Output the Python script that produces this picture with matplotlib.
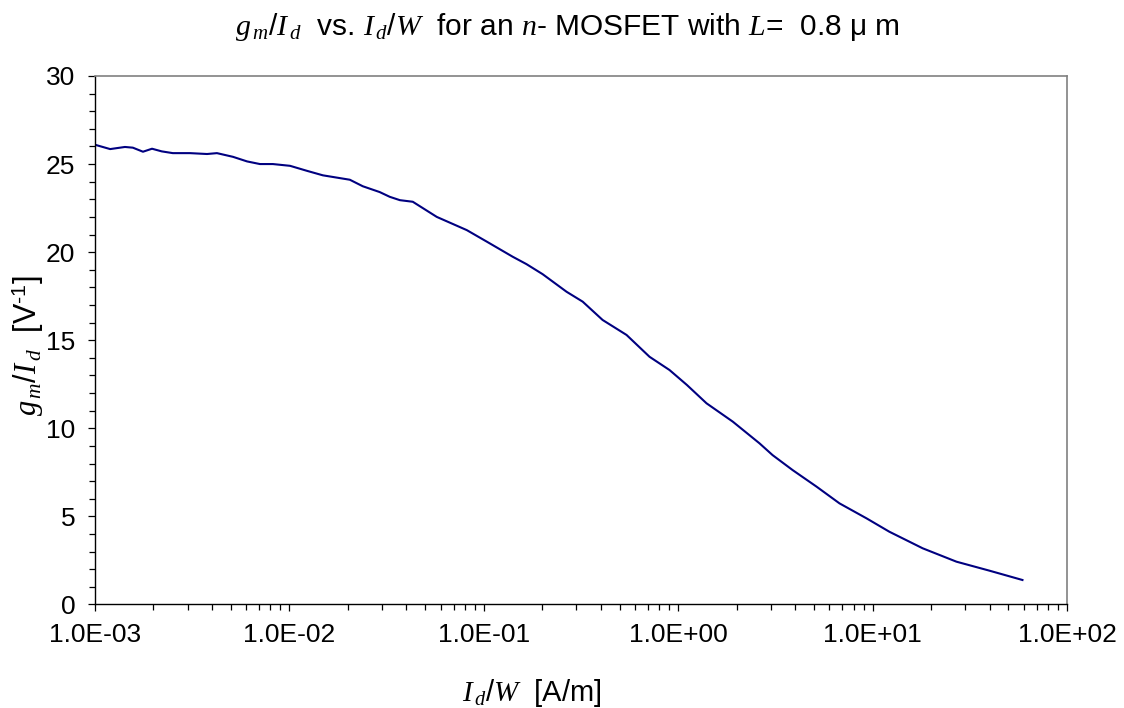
import matplotlib
matplotlib.use('Agg')
import matplotlib.pyplot as plt
import numpy as np
from matplotlib.ticker import LogLocator, MultipleLocator, FuncFormatter, NullFormatter

# I_d/W [A/m] and gm/Id [1/V]
id_w = np.array([1.0e-3, 1.20e-3, 1.43e-3, 1.57e-3, 1.77e-3, 1.97e-3, 2.21e-3, 2.52e-3,
                 3.09e-3, 3.78e-3, 4.25e-3, 5.14e-3, 6.07e-3, 7.07e-3, 8.24e-3, 1.01e-2,
                 1.23e-2, 1.49e-2, 2.05e-2, 2.39e-2, 2.92e-2, 3.29e-2, 3.71e-2, 4.32e-2,
                 5.74e-2, 8.19e-2, 0.104, 0.141, 0.166, 0.201, 0.267, 0.323, 0.409, 0.543,
                 0.713, 0.903, 1.11, 1.40, 1.91, 2.62, 3.06, 3.88, 5.15, 6.76, 9.31, 12.2,
                 18.1, 27.0, 39.9, 59.0])
gm_id = np.array([26.1, 25.85, 25.97, 25.93, 25.7, 25.87, 25.72, 25.62,
                  25.62, 25.57, 25.62, 25.41, 25.15, 25.0, 25.0, 24.9,
                  24.62, 24.36, 24.11, 23.74, 23.41, 23.14, 22.95, 22.86,
                  22.0, 21.25, 20.59, 19.74, 19.32, 18.75, 17.75, 17.19, 16.15, 15.3,
                  14.06, 13.31, 12.46, 11.42, 10.38, 9.15, 8.48, 7.63, 6.69, 5.74, 4.89, 4.13,
                  3.19, 2.43, 1.92, 1.39])

plt.rcParams['font.family'] = ['Liberation Sans', 'DejaVu Sans']
plt.rcParams['mathtext.fontset'] = 'custom'
plt.rcParams['mathtext.it'] = 'Liberation Serif:italic'
plt.rcParams['mathtext.rm'] = 'Liberation Sans'

fig = plt.figure(figsize=(11.24, 7.08), dpi=100)
ax = fig.add_axes([0.0843, 0.1462, 0.8650, 0.7465])

ax.plot(id_w, gm_id, color='#000080', linewidth=1.5)

ax.set_xscale('log')
ax.set_xlim(1e-3, 1e2)
ax.set_ylim(0, 30)
ax.yaxis.set_major_locator(MultipleLocator(5))
ax.yaxis.set_minor_locator(MultipleLocator(1))
ax.xaxis.set_major_locator(LogLocator(base=10, numticks=10))
ax.xaxis.set_minor_locator(LogLocator(base=10, subs=np.arange(2, 10), numticks=20))
ax.xaxis.set_minor_formatter(NullFormatter())
ax.xaxis.set_major_formatter(FuncFormatter(lambda v, p: '%.1E' % v))

ax.tick_params(which='major', direction='out', length=5, width=0.9, labelsize=19)
ax.tick_params(axis='y', which='major', pad=9)
ax.tick_params(axis='x', which='major', pad=8)
ax.tick_params(which='minor', direction='out', length=4, width=0.9)

for s in ['top', 'right']:
    ax.spines[s].set_color('#808080')
    ax.spines[s].set_linewidth(1.2)
for s in ['left', 'bottom']:
    ax.spines[s].set_linewidth(1.0)

ax.set_xlabel('$I_{\\,d}\\mathit{/}W$  [A/m]', fontsize=21)
ax.set_ylabel('$g_{\\,m}\\mathit{/}I_{\\,d}$  [V$^{\\text{-1}}$]', fontsize=22)
ax.xaxis.set_label_coords(0.45, -0.137)
ax.yaxis.set_label_coords(-0.05, 0.49)

fig.text(0.505, 0.962,
         '$g_{\\,m}\\mathit{/}I_{\\,d}$  vs. $I_{\\,d}\\mathit{/}W$  for an $n$- MOSFET with $L$=  0.8 \u03bc m',
         ha='center', va='center', fontsize=21.5)

fig.savefig('out.png', dpi=100)
